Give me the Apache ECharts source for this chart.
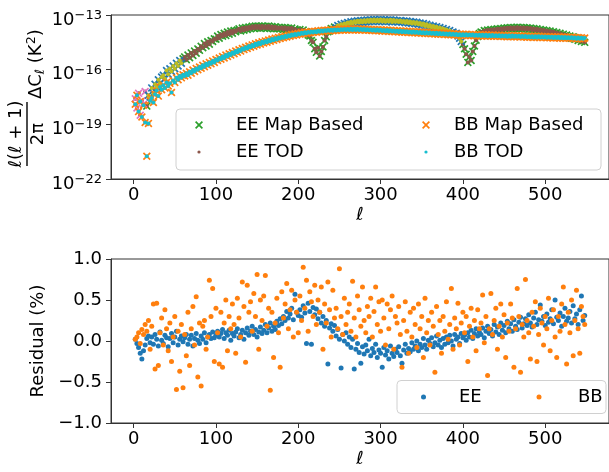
<!DOCTYPE html>
<html>
<head>
<meta charset="utf-8">
<script src="https://cdn.jsdelivr.net/npm/echarts@6/dist/echarts.min.js"></script>
<style>
  html, body { margin: 0; padding: 0; background: #fff; }
  #chart { width: 609px; height: 472px; }
</style>
</head>
<body>
<div id="chart"></div>
<script>
// multipoles (every second l) shared by both panels
const ell = [2,4,6,8,10,12,14,16,18,20,22,24,26,28,30,32,34,36,38,40,
  42,44,46,48,50,52,54,56,58,60,62,64,66,68,70,72,74,76,78,80,
  82,84,86,88,90,92,94,96,98,100,102,104,106,108,110,112,114,116,118,120,
  122,124,126,128,130,132,134,136,138,140,142,144,146,148,150,152,154,156,158,160,
  162,164,166,168,170,172,174,176,178,180,182,184,186,188,190,192,194,196,198,200,
  202,204,206,208,210,212,214,216,218,220,222,224,226,228,230,232,234,236,238,240,
  242,244,246,248,250,252,254,256,258,260,262,264,266,268,270,272,274,276,278,280,
  282,284,286,288,290,292,294,296,298,300,302,304,306,308,310,312,314,316,318,320,
  322,324,326,328,330,332,334,336,338,340,342,344,346,348,350,352,354,356,358,360,
  362,364,366,368,370,372,374,376,378,380,382,384,386,388,390,392,394,396,398,400,
  402,404,406,408,410,412,414,416,418,420,422,424,426,428,430,432,434,436,438,440,
  442,444,446,448,450,452,454,456,458,460,462,464,466,468,470,472,474,476,478,480,
  482,484,486,488,490,492,494,496,498,500,502,504,506,508,510,512,514,516,518,520,
  522,524,526,528,530,532,534,536,538,540,542,544,546,548];

// log10 of l(l+1)/2pi dC_l [K^2]
const eeLog = [-17.6,-18.1,-17.3,-18.5,-17.7,-17.9,-17.2,-18.0,-17.4,-17.5,
  -17.0,-17.3,-16.8,-16.95,-16.55,-16.75,-16.4,-16.3,-16.5,-16.05,
  -16.25,-15.95,-16.1,-15.8,-15.95,-15.65,-15.8,-15.5,-15.65,-15.4,
  -15.3,-15.45,-15.2,-15.35,-15.08,-15.22,-14.98,-15.1,-14.86,-14.94,
  -14.72,-14.8,-14.57,-14.7,-14.47,-14.6,-14.4,-14.45,-14.3,-14.33,
  -14.15,-14.28,-14.07,-14.16,-14.0,-14.13,-13.93,-14.05,-13.88,-14.0,
  -13.85,-13.92,-13.83,-13.76,-13.88,-13.72,-13.84,-13.69,-13.8,-13.66,
  -13.76,-13.62,-13.73,-13.6,-13.72,-13.61,-13.74,-13.6,-13.71,-13.62,
  -13.73,-13.61,-13.74,-13.63,-13.76,-13.64,-13.75,-13.69,-13.76,-13.68,
  -13.8,-13.68,-13.81,-13.71,-13.83,-13.72,-13.85,-13.77,-13.83,-13.88,
  -13.8,-13.91,-13.83,-13.95,-13.92,-14.1,-14.15,-14.4,-14.5,-14.85,
  -15.05,-14.8,-15.25,-15.0,-14.75,-14.4,-14.2,-13.92,-13.88,-13.74,
  -13.78,-13.66,-13.7,-13.58,-13.64,-13.51,-13.57,-13.46,-13.52,-13.41,
  -13.48,-13.37,-13.46,-13.34,-13.42,-13.32,-13.41,-13.3,-13.4,-13.29,
  -13.38,-13.27,-13.37,-13.26,-13.36,-13.25,-13.35,-13.26,-13.36,-13.25,
  -13.35,-13.26,-13.37,-13.27,-13.36,-13.26,-13.38,-13.28,-13.37,-13.3,
  -13.39,-13.3,-13.4,-13.33,-13.42,-13.33,-13.44,-13.35,-13.46,-13.38,
  -13.48,-13.4,-13.51,-13.44,-13.55,-13.47,-13.6,-13.51,-13.64,-13.56,
  -13.67,-13.6,-13.72,-13.64,-13.76,-13.69,-13.81,-13.74,-13.86,-13.8,
  -13.91,-13.85,-13.97,-13.93,-14.05,-14.0,-14.15,-14.28,-14.45,-14.62,
  -14.85,-15.15,-15.6,-15.3,-15.5,-15.0,-14.7,-14.38,-14.18,-14.02,
  -13.93,-13.97,-13.85,-13.91,-13.82,-13.89,-13.8,-13.87,-13.78,-13.85,
  -13.76,-13.84,-13.74,-13.82,-13.72,-13.8,-13.7,-13.79,-13.69,-13.78,
  -13.68,-13.78,-13.67,-13.77,-13.68,-13.78,-13.69,-13.79,-13.7,-13.8,
  -13.71,-13.82,-13.74,-13.85,-13.76,-13.87,-13.79,-13.9,-13.82,-13.93,
  -13.85,-13.96,-13.88,-13.99,-13.92,-14.03,-13.96,-14.08,-14.0,-14.12,
  -14.05,-14.17,-14.1,-14.22,-14.15,-14.27,-14.2,-14.33,-14.27,-14.4,
  -14.33,-14.45,-14.4,-14.5];

const bbLog = [-17.9,-17.4,-18.3,-17.75,-18.6,-17.95,-18.9,-20.75,-18.95,-17.7,
  -17.55,-17.8,-17.35,-17.15,-17.45,-16.95,-17.1,-16.85,-17.0,-16.7,
  -16.9,-16.75,-17.25,-16.6,-16.7,-16.45,-16.55,-16.35,-16.45,-16.28,
  -16.35,-16.2,-16.3,-16.12,-16.2,-16.02,-16.1,-15.93,-16.0,-15.85,
  -15.92,-15.76,-15.84,-15.68,-15.76,-15.6,-15.68,-15.52,-15.6,-15.44,
  -15.5,-15.36,-15.43,-15.28,-15.36,-15.2,-15.28,-15.13,-15.2,-15.06,
  -15.12,-14.98,-15.05,-14.91,-14.98,-14.84,-14.9,-14.77,-14.84,-14.7,
  -14.77,-14.64,-14.71,-14.58,-14.65,-14.52,-14.6,-14.47,-14.54,-14.42,
  -14.49,-14.37,-14.44,-14.32,-14.39,-14.27,-14.34,-14.23,-14.29,-14.19,
  -14.25,-14.15,-14.21,-14.11,-14.17,-14.07,-14.13,-14.04,-14.1,-14.01,
  -14.06,-13.98,-14.03,-13.95,-14.0,-13.93,-13.98,-13.91,-13.96,-13.89,
  -13.94,-13.87,-13.92,-13.85,-13.9,-13.84,-13.88,-13.82,-13.87,-13.81,
  -13.86,-13.8,-13.85,-13.79,-13.84,-13.78,-13.83,-13.77,-13.83,-13.77,
  -13.82,-13.76,-13.82,-13.76,-13.82,-13.76,-13.83,-13.77,-13.83,-13.77,
  -13.84,-13.78,-13.84,-13.79,-13.85,-13.79,-13.86,-13.8,-13.87,-13.81,
  -13.88,-13.82,-13.89,-13.83,-13.9,-13.84,-13.91,-13.85,-13.92,-13.86,
  -13.93,-13.87,-13.94,-13.88,-13.95,-13.89,-13.96,-13.9,-13.97,-13.91,
  -13.98,-13.92,-13.99,-13.93,-14.0,-13.94,-14.01,-13.95,-14.02,-13.96,
  -14.03,-13.97,-14.04,-13.98,-14.05,-13.99,-14.06,-14.0,-14.07,-14.01,
  -14.08,-14.02,-14.09,-14.03,-14.1,-14.04,-14.11,-14.05,-14.12,-14.06,
  -14.12,-14.06,-14.13,-14.07,-14.13,-14.07,-14.14,-14.08,-14.14,-14.08,
  -14.15,-14.09,-14.15,-14.09,-14.16,-14.1,-14.16,-14.1,-14.17,-14.11,
  -14.17,-14.11,-14.18,-14.12,-14.18,-14.12,-14.19,-14.13,-14.19,-14.13,
  -14.2,-14.14,-14.2,-14.14,-14.21,-14.15,-14.21,-14.15,-14.22,-14.16,
  -14.22,-14.16,-14.23,-14.17,-14.23,-14.17,-14.24,-14.18,-14.24,-14.18,
  -14.25,-14.19,-14.25,-14.19,-14.26,-14.2,-14.26,-14.2,-14.27,-14.21,
  -14.27,-14.21,-14.28,-14.22,-14.28,-14.22,-14.29,-14.23,-14.3,-14.24,
  -14.3,-14.25,-14.31,-14.26];

// residual (%) between map based and TOD spectra
const eeRes = [0.02,-0.03,-0.08,-0.15,-0.22,-0.12,-0.05,0.03,0.06,-0.02,
  0.05,-0.04,0.08,0.02,-0.06,0.11,0.01,-0.03,0.07,0.04,
  -0.07,0.03,0.09,-0.02,0.05,0.12,-0.05,0.02,0.06,-0.01,
  0.04,0.08,-0.04,0.02,0.07,-0.06,0.03,0.09,0.01,-0.03,
  0.06,0.02,0.10,-0.02,0.05,0.08,0.03,0.11,0.04,0.07,
  0.12,0.05,0.09,0.14,0.03,0.10,0.07,0.13,0.01,0.09,
  0.06,0.11,0.15,0.04,0.08,0.13,0.02,0.10,0.16,0.07,
  0.12,0.18,0.08,0.14,0.05,0.11,0.17,0.09,0.13,0.20,
  0.10,0.16,0.22,0.12,0.18,0.14,0.24,0.19,0.27,0.21,
  0.30,0.25,0.36,0.28,0.33,0.40,0.26,0.57,0.35,0.31,
  0.38,0.29,0.43,0.34,-0.03,0.46,0.36,-0.04,0.41,0.32,
  0.39,0.27,0.35,0.22,0.30,0.18,0.25,-0.28,0.16,0.21,
  0.12,0.19,0.06,0.14,0.02,-0.33,0.08,0.00,0.10,-0.04,
  0.05,-0.08,0.02,-0.34,-0.10,-0.03,-0.14,-0.27,-0.07,-0.16,
  -0.05,-0.12,0.02,-0.18,-0.09,-0.14,-0.04,-0.20,-0.11,-0.15,
  -0.32,-0.08,-0.17,-0.12,-0.22,-0.06,-0.15,-0.19,-0.10,-0.14,
  -0.07,-0.18,-0.27,-0.11,-0.04,-0.15,-0.09,-0.13,-0.02,-0.10,
  -0.06,0.00,-0.12,-0.04,-0.08,0.03,-0.05,-0.10,0.01,-0.03,
  0.04,-0.07,-0.02,0.06,-0.05,0.01,-0.08,0.03,-0.04,0.05,
  -0.02,0.07,0.00,-0.06,0.08,0.02,0.05,-0.03,0.09,0.04,
  0.07,0.01,0.10,0.05,0.13,0.03,0.09,0.15,0.06,0.11,
  0.08,0.16,0.04,0.12,0.18,0.09,0.14,0.06,0.20,0.11,
  0.17,0.08,0.22,0.13,0.19,0.10,0.24,0.15,0.21,0.12,
  0.26,0.18,0.14,0.23,0.29,0.16,0.21,0.27,0.19,0.32,
  0.22,0.17,0.28,0.35,0.20,0.26,0.44,0.24,0.30,0.19,
  0.33,0.23,0.27,0.38,0.21,0.50,0.29,0.25,0.34,0.18,
  0.30,0.40,0.24,0.28,0.36,0.22,0.43,0.27,0.33,0.20,
  0.38,0.55,0.25,0.31];

const bbRes = [0.02,0.05,0.10,-0.03,0.14,0.08,0.20,0.12,0.25,-0.10,
  0.18,0.45,-0.34,0.46,-0.30,0.10,0.28,-0.05,0.38,0.15,
  -0.12,0.22,-0.25,0.05,0.30,-0.59,0.12,-0.37,0.20,-0.57,
  0.08,-0.18,0.35,-0.30,0.15,0.42,-0.05,0.54,-0.44,0.22,
  -0.55,0.18,0.25,-0.10,0.05,0.74,0.30,0.64,-0.25,0.40,
  0.10,-0.28,0.35,-0.32,0.22,0.50,-0.12,0.30,0.15,0.45,
  0.20,-0.15,0.52,0.28,0.05,0.72,0.42,-0.26,0.68,0.35,
  0.48,0.12,0.58,0.30,0.81,-0.10,0.50,0.25,0.55,0.80,
  0.18,0.40,-0.60,0.35,-0.20,0.22,0.52,0.10,-0.32,0.60,
  0.28,0.45,0.70,0.15,0.38,0.62,0.05,0.50,0.35,0.10,
  0.55,0.25,0.90,0.40,0.74,0.12,0.60,0.48,0.30,0.68,
  0.20,0.50,0.35,0.66,-0.10,0.45,0.22,0.72,0.38,0.05,
  0.62,0.28,0.40,0.15,0.88,0.30,0.08,0.52,0.20,0.35,
  0.45,0.12,0.73,0.28,0.05,0.55,0.38,0.18,0.66,0.25,
  0.10,0.42,0.30,0.52,0.05,0.36,0.66,0.20,0.48,0.12,
  0.50,0.28,-0.05,0.45,0.15,0.38,0.55,-0.10,0.30,0.22,
  0.42,0.08,-0.32,0.25,0.48,0.12,-0.15,0.35,0.05,0.40,
  0.20,-0.08,0.45,0.15,0.30,-0.20,0.52,0.10,0.25,-0.05,
  0.35,0.18,-0.38,0.42,0.08,0.25,-0.15,0.30,0.12,0.48,
  0.02,0.20,0.64,-0.10,0.28,0.15,0.46,-0.05,0.22,0.35,
  0.10,0.30,-0.25,0.18,0.40,0.05,0.25,-0.12,0.38,0.15,
  0.22,0.56,-0.02,0.30,-0.42,0.15,0.58,0.08,0.25,0.40,
  -0.10,0.18,0.45,0.05,0.32,-0.20,0.22,0.12,0.45,0.28,
  -0.32,0.15,0.64,0.30,-0.38,0.20,0.05,0.75,0.25,0.10,
  -0.22,0.35,0.18,0.48,-0.25,0.08,0.40,0.22,-0.05,0.30,
  0.15,0.52,-0.12,0.25,0.38,0.05,-0.20,0.30,0.12,0.45,
  0.66,0.20,-0.28,0.35,0.10,0.50,-0.18,0.25,0.62,0.15,
  -0.15,0.42,0.30,0.20];

const xTicks = [0, 100, 200, 300, 400, 500];
const topTicks = [1e-22, 1e-19, 1e-16, 1e-13];

const FONT = 'DejaVu Sans';
const AX = '#333';
const C = {
  blue: '#1f77b4', orange: '#ff7f0e', green: '#2ca02c', brown: '#8c564b',
  pink: '#e377c2', olive: '#bcbd22', cyan: '#17becf'
};
const CROSS = 'path://M0,1.5L1.5,0L5,3.5L8.5,0L10,1.5L6.5,5L10,8.5L8.5,10L5,6.5L1.5,10L0,8.5L3.5,5Z';
const DOT_S = 'path://M0,0M10,10M3,5A2,2,0,1,1,7,5A2,2,0,1,1,3,5Z';
const DOT_L = 'path://M0,0M10,10M2.5,5A2.5,2.5,0,1,1,7.5,5A2.5,2.5,0,1,1,2.5,5Z';

// colour the EE points carry in the original plot
function eeGroup(l) {
  if (l <= 14) return 'pink';
  if ((l >= 18 && l <= 58) || (l >= 246 && l <= 398)) return 'blue';
  return 'green';
}

function pts(logs, keep) {
  const out = [];
  ell.forEach((l, i) => { if (keep(l)) out.push([l, Math.pow(10, logs[i])]); });
  return out;
}

function scat(name, data, symbol, size, color, xi) {
  return {
    type: 'scatter', name, data, symbol, symbolSize: size,
    xAxisIndex: xi, yAxisIndex: xi, silent: true,
    itemStyle: { color, opacity: 1 }
  };
}

const chart = echarts.init(document.getElementById('chart'));

const tickLabel = { fontFamily: FONT, fontSize: 18, color: '#000' };
const axisLine = { show: true, onZero: false, lineStyle: { color: AX, width: 1 } };

const legendText = (pad) => ({
  fontFamily: FONT, fontSize: 18, color: '#000', lineHeight: 18, padding: [0, 0, 0, pad]
});

chart.setOption({
  animation: false,
  grid: [
    { left: 111, right: -7, top: 15, height: 164, show: true, borderColor: AX, borderWidth: 1 },
    { left: 111, right: -7, top: 259, height: 164, show: true, borderColor: AX, borderWidth: 1 }
  ],
  xAxis: [0, 1].map(i => ({
    type: 'value', gridIndex: i, min: -27.5, max: 577.5,
    name: 'ℓ', nameLocation: 'middle', nameGap: 27,
    nameTextStyle: { fontFamily: FONT, fontSize: 18, fontStyle: 'italic', color: '#000' },
    axisLine,
    splitLine: { show: false },
    axisLabel: Object.assign({ customValues: xTicks, margin: 7 }, tickLabel),
    axisTick: { show: true, length: 5, customValues: xTicks, lineStyle: { color: AX } }
  })),
  yAxis: [
    {
      type: 'log', gridIndex: 0, min: 1e-22, max: 1e-13, logBase: 10,
      axisLine,
      splitLine: { show: false },
      axisLabel: {
        customValues: topTicks, margin: 9, padding: [8, 0, 0, 0],
        formatter: v => '{b|10}{s|−' + Math.abs(Math.round(Math.log10(v))) + '}',
        rich: {
          b: { fontFamily: FONT, fontSize: 18, color: '#000', lineHeight: 20, padding: [2, 0, 0, 0], verticalAlign: 'bottom' },
          s: { fontFamily: FONT, fontSize: 13, color: '#000', lineHeight: 13, verticalAlign: 'top' }
        }
      },
      axisTick: { show: true, length: 5, customValues: topTicks, lineStyle: { color: AX } },
      minorTick: { show: false }
    },
    {
      type: 'value', gridIndex: 1, min: -1, max: 1, interval: 0.5,
      name: 'Residual (%)', nameLocation: 'middle', nameGap: 58,
      nameTextStyle: { fontFamily: FONT, fontSize: 18, color: '#000' },
      axisLine,
      splitLine: { show: false },
      axisTick: { show: true, length: 5, lineStyle: { color: AX } },
      axisLabel: Object.assign({
        margin: 9,
        formatter: v => (v < 0 ? '−' : '') + Math.abs(v).toFixed(1)
      }, tickLabel)
    }
  ],
  legend: [
    { orient: 'vertical', left: 195, top: 116, itemWidth: 8, itemHeight: 8, itemGap: 9, padding: 0, z: 10,
      selectedMode: false, textStyle: legendText(28),
      data: [{ name: 'EE Map Based', icon: CROSS }, { name: 'EE TOD', icon: DOT_S }] },
    { orient: 'vertical', left: 422, top: 116, itemWidth: 8, itemHeight: 8, itemGap: 9, padding: 0, z: 10,
      selectedMode: false, textStyle: legendText(19),
      data: [{ name: 'BB Map Based', icon: CROSS }, { name: 'BB TOD', icon: DOT_S }] },
    { orient: 'horizontal', left: 418.5, top: 388, itemWidth: 10, itemHeight: 10, padding: 0, z: 10,
      selectedMode: false, textStyle: legendText(25.5),
      data: [{ name: 'EE', icon: DOT_L }] },
    { orient: 'horizontal', left: 534, top: 388, itemWidth: 10, itemHeight: 10, padding: 0, z: 10,
      selectedMode: false, textStyle: legendText(29),
      data: [{ name: 'BB', icon: DOT_L }] }
  ],
  graphic: [
    { type: 'group', x: 27, y: 97, rotation: Math.PI / 2, children: [
      { type: 'text', x: -37, y: -11, style: {
          text: '{i|ℓ}({i|ℓ} + 1)', fontFamily: FONT, fontSize: 18, fill: '#000',
          align: 'center', verticalAlign: 'middle',
          rich: { i: { fontFamily: FONT, fontSize: 18, fontStyle: 'italic', fill: '#000' } } } },
      { type: 'rect', shape: { x: -69, y: -0.7, width: 64, height: 1.4 }, style: { fill: '#000' } },
      { type: 'text', x: -37, y: 11, style: {
          text: '2π', fontFamily: FONT, fontSize: 18, fill: '#000', align: 'center', verticalAlign: 'middle' } },
      { type: 'text', x: -2, y: 9, style: {
          text: '{n|ΔC}{sub|ℓ}{n| (K}{sup|2}{n|)}', align: 'left', verticalAlign: 'middle',
          rich: {
            n: { fontFamily: FONT, fontSize: 18, lineHeight: 22, fill: '#000' },
            sub: { fontFamily: FONT, fontSize: 12.6, lineHeight: 12, fontStyle: 'italic', verticalAlign: 'bottom', fill: '#000' },
            sup: { fontFamily: FONT, fontSize: 12.6, lineHeight: 12, verticalAlign: 'top', fill: '#000' }
          } } }
    ] },
    { type: 'rect', z: 6, shape: { x: 176, y: 109, width: 425, height: 61, r: 4 },
      style: { fill: 'rgba(255,255,255,0.8)', stroke: '#d0d0d0', lineWidth: 1 } },
    { type: 'rect', z: 6, shape: { x: 397, y: 380.5, width: 209, height: 33, r: 4 },
      style: { fill: 'rgba(255,255,255,0.8)', stroke: '#d0d0d0', lineWidth: 1 } }
  ],
  series: [
    scat('EE Map Based', pts(eeLog, l => eeGroup(l) === 'green'), CROSS, 8, C.green, 0),
    scat('EE TOD', pts(eeLog, l => eeGroup(l) !== 'blue'), 'circle', 4, C.brown, 0),
    scat('EE Map Based low', pts(eeLog, l => eeGroup(l) === 'pink'), CROSS, 8, C.pink, 0),
    scat('EE Map Based mid', pts(eeLog, l => eeGroup(l) === 'blue'), CROSS, 8, C.blue, 0),
    scat('EE TOD mid', pts(eeLog, l => eeGroup(l) === 'blue'), 'circle', 4, C.olive, 0),
    scat('BB Map Based', pts(bbLog, () => true), CROSS, 8, C.orange, 0),
    scat('BB TOD', pts(bbLog, () => true), 'circle', 4, C.cyan, 0),
    scat('EE', ell.map((l, i) => [l, eeRes[i]]), 'circle', 5, C.blue, 1),
    scat('BB', ell.map((l, i) => [l, bbRes[i]]), 'circle', 5, C.orange, 1)
  ]
});
</script>
</body>
</html>
